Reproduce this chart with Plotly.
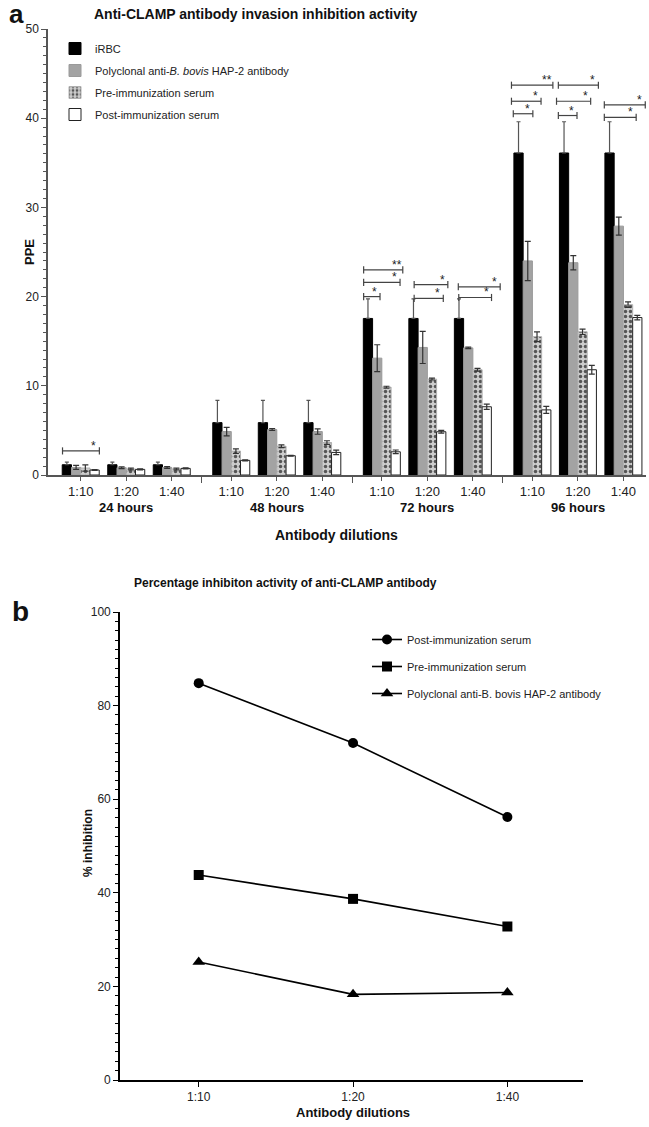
import plotly.graph_objects as go

# ---------------- data (panel a) ----------------
dilutions = ["1:10", "1:20", "1:40"]
time_points = ["24 hours", "48 hours", "72 hours", "96 hours"]

irbc = [1.15, 1.15, 1.15, 5.87, 5.87, 5.87, 17.55, 17.55, 17.55, 36.1, 36.1, 36.1]
irbc_err = [0.3, 0.3, 0.3, 2.5, 2.5, 2.5, 2.2, 2.2, 2.2, 3.5, 3.5, 3.5]
poly = [0.85, 0.82, 0.85, 4.87, 5.09, 4.87, 13.1, 14.3, 14.25, 24.0, 23.8, 27.9]
poly_err = [0.22, 0.1, 0.1, 0.48, 0.1, 0.3, 1.5, 1.8, 0.08, 2.2, 0.8, 1.0]
pre = [0.78, 0.67, 0.67, 2.68, 3.23, 3.64, 9.85, 10.75, 11.8, 15.5, 16.05, 19.1]
pre_err = [0.35, 0.1, 0.1, 0.25, 0.15, 0.2, 0.1, 0.1, 0.15, 0.55, 0.3, 0.3]
post = [0.56, 0.63, 0.74, 1.64, 2.16, 2.53, 2.6, 4.85, 7.65, 7.3, 11.8, 17.65]
post_err = [0.05, 0.05, 0.05, 0.05, 0.05, 0.25, 0.2, 0.15, 0.3, 0.4, 0.5, 0.25]

# significance brackets: group index, height (PPE), start/end offset from group centre, label
br_group = [0, 6, 6, 6, 7, 7, 8, 8, 9, 9, 9, 10, 10, 10, 11, 11]
br_y = [2.7, 23.0, 21.6, 20.0, 21.35, 19.8, 21.1, 19.9, 43.7, 41.9, 40.5, 43.7, 41.9, 40.3, 41.5, 40.1]
br_x0 = [-0.40, -0.40, -0.40, -0.40, -0.29, -0.29, -0.32, -0.31, -0.46, -0.46, -0.42, -0.43, -0.47, -0.43, -0.42, -0.42]
br_x1 = [0.41, 0.46, 0.40, -0.04, 0.45, 0.35, 0.60, 0.41, 0.45, 0.19, 0.01, 0.45, 0.28, -0.02, 0.48, 0.28]
br_label = ["*", "**", "*", "*", "*", "*", "*", "*", "**", "*", "*", "*", "*", "*", "*", "*"]

# ---------------- data (panel b) ----------------
pct_post = [84.8, 72.0, 56.2]
pct_pre = [43.8, 38.7, 32.8]
pct_poly = [25.2, 18.3, 18.7]

# ---------------- layout helpers ----------------
W, H = 649, 1127
FONT = "Liberation Sans, Arial, Helvetica, sans-serif"


def py(p):
    return 1 - p / H


def pxx(p):
    return p / W


block_step = 3.308
centers = [b * block_step + d for b in range(len(time_points)) for d in range(len(dilutions))]
block_mid = [b * block_step + 1 for b in range(len(time_points))]
boundaries = [b * block_step + 2 + (block_step - 2) / 2 for b in range(len(time_points) - 1)]

fig = go.Figure()

ecol = "#333333"
fig.add_trace(go.Bar(
    x=centers, y=irbc, name="iRBC", legendgroup="a1",
    marker=dict(color="#000000", line=dict(color="#000000", width=1)),
    error_y=dict(type="data", array=irbc_err, arrayminus=[0] * len(irbc), color="#555555", thickness=1.2, width=2),
    xaxis="x", yaxis="y", legend="legend"))
fig.add_trace(go.Bar(
    x=centers, y=poly, name="Polyclonal anti-<i>B. bovis</i> HAP-2 antibody", legendgroup="a2",
    marker=dict(color="#a3a3a3", line=dict(color="#9a9a9a", width=1)),
    error_y=dict(type="data", array=poly_err, color=ecol, thickness=1.2, width=3),
    xaxis="x", yaxis="y", legend="legend"))
fig.add_trace(go.Bar(
    x=centers, y=pre, name="Pre-immunization serum", legendgroup="a3",
    marker=dict(color="#cfcfcf", line=dict(color="#b0b0b0", width=1),
                pattern=dict(shape=".", fillmode="replace", bgcolor="#cdcdcd", fgcolor="#555555", size=5, solidity=0.38)),
    error_y=dict(type="data", array=pre_err, color=ecol, thickness=1.2, width=3),
    xaxis="x", yaxis="y", legend="legend"))
fig.add_trace(go.Bar(
    x=centers, y=post, name="Post-immunization serum", legendgroup="a4",
    marker=dict(color="#ffffff", line=dict(color="#222222", width=1)),
    error_y=dict(type="data", array=post_err, color=ecol, thickness=1.2, width=3),
    xaxis="x", yaxis="y", legend="legend"))

# brackets
shapes = []
annotations = []
for g, yv, a, b, lab in zip(br_group, br_y, br_x0, br_x1, br_label):
    x0 = centers[g] + a
    x1 = centers[g] + b
    shapes.append(dict(type="line", xref="x", yref="y", x0=x0, x1=x1, y0=yv, y1=yv,
                       line=dict(color="#444444", width=1.2)))
    for xe in (x0, x1):
        shapes.append(dict(type="line", xref="x", yref="y", x0=xe, x1=xe, y0=yv - 0.4, y1=yv + 0.4,
                           line=dict(color="#444444", width=1.2)))
    annotations.append(dict(x=x1 - 0.12, y=yv, xref="x", yref="y", text=lab, showarrow=False,
                            xanchor="center", yanchor="bottom", yshift=-4,
                            font=dict(family=FONT, size=12, color="#222222")))

# ---------------- panel b ----------------
line_style = dict(color="#000000", width=1.6)
fig.add_trace(go.Scatter(x=[0, 1, 2], y=pct_post, mode="lines+markers", name="Post-immunization serum",
                         legendgroup="b1", line=line_style,
                         marker=dict(symbol="circle", size=10, color="#000000"),
                         xaxis="x2", yaxis="y2", legend="legend2"))
fig.add_trace(go.Scatter(x=[0, 1, 2], y=pct_pre, mode="lines+markers", name="Pre-immunization serum",
                         legendgroup="b2", line=line_style,
                         marker=dict(symbol="square", size=10, color="#000000"),
                         xaxis="x2", yaxis="y2", legend="legend2"))
fig.add_trace(go.Scatter(x=[0, 1, 2], y=pct_poly, mode="lines+markers",
                         name="Polyclonal anti-B. bovis HAP-2 antibody",
                         legendgroup="b3", line=line_style,
                         marker=dict(symbol="triangle-up", size=11, color="#000000"),
                         xaxis="x2", yaxis="y2", legend="legend2"))


def ann(x, y, text, size, bold=True, xanchor="center", yanchor="middle", angle=0, color="#111111"):
    annotations.append(dict(x=pxx(x), y=py(y), xref="paper", yref="paper", text=(f"<b>{text}</b>" if bold else text),
                            showarrow=False, xanchor=xanchor, yanchor=yanchor, textangle=angle,
                            font=dict(family=FONT, size=size, color=color)))


ann(16, 14, "a", 26)
ann(256, 14, "Anti-CLAMP antibody invasion inhibition activity", 14)
ann(30, 252, "PPE", 13, angle=-90)
for b, lab in enumerate(time_points):
    annotations.append(dict(x=block_mid[b], y=py(508), xref="x", yref="paper", text=f"<b>{lab}</b>",
                            showarrow=False, xanchor="center", yanchor="middle",
                            font=dict(family=FONT, size=13, color="#111111")))
ann(336, 535, "Antibody dilutions", 14)

ann(20, 611, "b", 28)
ann(285, 583, "Percentage inhibiton activity of anti-CLAMP antibody", 12)
ann(88, 843, "% inhibition", 12, angle=-90)
ann(353, 1112, "Antibody dilutions", 13)

fig.update_layout(
    width=W, height=H, margin=dict(l=0, r=0, t=0, b=0, autoexpand=False),
    plot_bgcolor="white", paper_bgcolor="white",
    barmode="group", bargap=0.187, bargroupgap=0,
    shapes=shapes, annotations=annotations,
    font=dict(family=FONT, color="#222222"),
    xaxis=dict(domain=[pxx(48), pxx(646)], range=[-0.719, 12.42], anchor="y", automargin=False,
               showline=True, linecolor="#555555", linewidth=1.5, showgrid=False, zeroline=False,
               tickmode="array", tickvals=centers, ticktext=dilutions * len(time_points),
               ticks="outside", ticklen=4, tickcolor="#555555", tickwidth=1.2,
               tickfont=dict(family=FONT, size=13, color="#222222"),
               minor=dict(tickmode="array", tickvals=boundaries, ticks="outside", ticklen=6,
                          tickcolor="#555555", tickwidth=1.2)),
    yaxis=dict(domain=[py(475), py(29)], range=[0, 50], anchor="x", automargin=False,
               showline=True, linecolor="#555555", linewidth=1.5, showgrid=False, zeroline=False,
               tickvals=[0, 10, 20, 30, 40, 50], ticks="outside", ticklen=5, tickcolor="#555555", tickwidth=1.2,
               tickfont=dict(family=FONT, size=12, color="#222222"),
               minor=dict(dtick=1, ticks="outside", ticklen=3, tickcolor="#555555", tickwidth=1)),
    xaxis2=dict(domain=[pxx(120), pxx(583)], range=[-0.51, 2.49], anchor="y2", automargin=False,
                showline=True, linecolor="#000000", linewidth=1.6, showgrid=False, zeroline=False,
                tickmode="array", tickvals=[0, 1, 2], ticktext=dilutions,
                ticks="outside", ticklen=5, tickcolor="#000000", tickwidth=1.3,
                tickfont=dict(family=FONT, size=12, color="#222222")),
    yaxis2=dict(domain=[py(1080), py(612)], range=[0, 100], anchor="x2", automargin=False,
                showline=True, linecolor="#000000", linewidth=1.6, showgrid=False, zeroline=False,
                tickvals=[0, 20, 40, 60, 80, 100], ticks="outside", ticklen=5, tickcolor="#000000", tickwidth=1.3,
                tickfont=dict(family=FONT, size=12, color="#222222"),
                minor=dict(dtick=2, ticks="outside", ticklen=3, tickcolor="#000000", tickwidth=1)),
    legend=dict(x=pxx(55), y=py(34), xanchor="left", yanchor="top", bgcolor="rgba(0,0,0,0)",
                font=dict(family=FONT, size=11, color="#222222"), tracegroupgap=3,
                traceorder="grouped"),
    legend2=dict(x=pxx(367), y=py(625), xanchor="left", yanchor="top", bgcolor="rgba(0,0,0,0)",
                 font=dict(family=FONT, size=11, color="#222222"), tracegroupgap=8,
                 traceorder="grouped"),
)

fig.write_html("out.html", config={"displayModeBar": False},
               post_script="document.body.style.margin='0px';document.body.style.overflow='hidden';")
